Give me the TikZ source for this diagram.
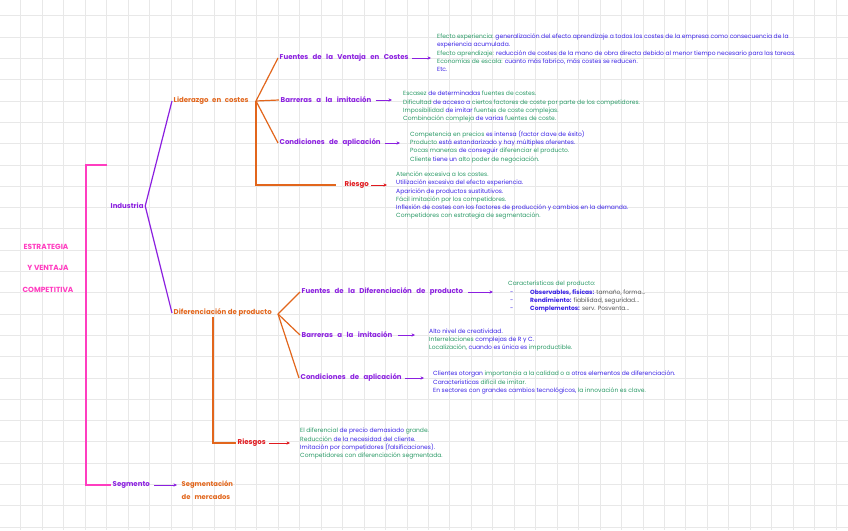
\documentclass[tikz,border=0pt]{standalone}
\usepackage{fontspec}
\setmainfont{Poppins}
\usetikzlibrary{arrows.meta}
\definecolor{gridc}{HTML}{E8E8E8}
\definecolor{pur}{HTML}{8B1FE0}
\definecolor{orn}{HTML}{E2661C}
\definecolor{rd}{HTML}{E0191E}
\definecolor{pnk}{HTML}{FF3DC0}
\definecolor{tgreen}{HTML}{2A9A66}
\definecolor{tblue}{HTML}{3A22E6}
\definecolor{tgray}{HTML}{555555}
\newcommand{\cgreen}[1]{\textcolor{tgreen}{#1}}
\newcommand{\cblue}[1]{\textcolor{tblue}{#1}}
\newcommand{\cgray}[1]{\textcolor{tgray}{#1}}
\newcommand{\bodysize}{\fontsize{6}{8.3}\selectfont}
\newcommand{\headsize}{\fontsize{7}{13}\selectfont\bfseries\spaceskip=4.4pt plus 1pt\relax}
\newcommand{\headmid}{\fontsize{7}{13}\selectfont\bfseries\spaceskip=3.6pt plus 1pt\relax}
\newcommand{\headtight}{\fontsize{7}{13}\selectfont\bfseries\spaceskip=1.6pt plus 1pt\relax}
\newcommand{\titlesize}{\fontsize{7.4}{13}\selectfont\bfseries}
\newcommand{\smallhead}{\fontsize{6.8}{13}\selectfont\bfseries\spaceskip=4pt plus 1pt\relax}
\tikzset{
  gridl/.style={draw=gridc, line width=1pt},
  head/.style={font=\headsize, inner sep=1.5pt, anchor=west},
  ttl/.style={font=\titlesize, inner sep=1.5pt, anchor=center, text=pnk},
  body/.style={font=\bodysize, inner sep=0pt, anchor=north west, align=left},
  arr/.style={-{Stealth[length=3.5pt,width=3.4pt]}, line width=0.9pt},
  link/.style={line width=1.2pt}
}
\begin{document}
\begin{tikzpicture}[x=1pt,y=-1pt]
\useasboundingbox (0,0) rectangle (848,530);
\fill[white] (0,0) rectangle (848,530);
\foreach \k in {0,...,39} \draw[gridl] ({21.45*\k-0.5},0) -- ({21.45*\k-0.5},530);
\foreach \k in {0,...,24} \draw[gridl] (0,{15.9+21.3*\k}) -- (848,{15.9+21.3*\k});

% title
\node[ttl] (t1) at (46,247) {ESTRATEGIA};
\node[ttl] (t2) at (48,268) {Y VENTAJA};
\node[ttl] (t3) at (48,290) {COMPETITIVA};

% level 1
\node[head, text=pur] (ind) at (109,206) {Industria};
\node[head, text=pur] (seg) at (111,485) {Segmento};
\coordinate (pk1) at (107,165);
\coordinate (pkc) at (86,165);
\draw[link, pnk] (pk1) -- (pkc) |- (seg.west);

\node[head, text=orn, font=\headmid] (lid) at (172,101) {Liderazgo en costes};
\node[head, text=orn, font=\headtight] (dif) at (172,313) {Diferenciación de producto};
\draw[link, pur] (ind.east) -- (lid.west);
\draw[link, pur] (ind.east) -- (dif.west);

% liderazgo branches
\coordinate (lb) at (256,101);
\node[head, text=pur] (fv) at (278,58) {Fuentes de la Ventaja en Costes};
\node[head, text=pur] (ba1) at (279,100) {Barreras a la imitación};
\node[head, text=pur] (co1) at (278,143) {Condiciones de aplicación};
\node[head, text=rd] (ri1) at (343,185) {Riesgo};
\draw[link, orn] (lb) -- (fv.west);
\draw[link, orn] (lb) -- (ba1.west);
\draw[link, orn] (lb) -- (co1.west);
\draw[link, orn, shorten >=7pt] (lb) |- (ri1.west);

\node[body] (b1) at (437,33.5) {%
\cgreen{Efecto experiencia:} \cblue{generalización del efecto aprendizaje a todos los costes de la empresa como consecuencia de la}\\
\cblue{experiencia acumulada.}\\
\cgreen{Efecto aprendizaje:} \cblue{reducción de costes de la mano de obra directa debido al menor tiempo necesario para las tareas.}\\
\cgreen{Economías de escala:} \cblue{cuanto más fabrico, más costes se reducen.}\\
\cblue{Etc.}};
\node[body] (b2) at (403,91) {%
\cgreen{Escasez} \cblue{de determinadas} \cgreen{fuentes de costes.}\\
\cgreen{Dificultad} \cblue{de acceso a} \cgreen{ciertos factores de coste por parte de los competidores.}\\
\cgreen{Imposibilidad} \cblue{de imitar} \cgreen{fuentes de coste complejas.}\\
\cgreen{Combinación compleja} \cblue{de varias} \cgreen{fuentes de coste.}};
\node[body] (b3) at (410,130.5) {%
\cgreen{Competencia en precios} \cblue{es intensa (factor clave de éxito)}\\
\cgreen{Producto} \cblue{está estandarizado y hay múltiples oferentes.}\\
\cgreen{Pocas maneras} \cblue{de conseguir} \cgreen{diferenciar el producto.}\\
\cgreen{Cliente} \cblue{tiene un} \cgreen{alto poder de negociación.}};
\node[body] (b4) at (396,171.5) {%
\cgreen{Atención excesiva a los costes.}\\
\cblue{Utilización excesiva del efecto experiencia.}\\
\cblue{Aparición de productos sustitutivos.}\\
\cgreen{Fácil imitación por los competidores.}\\
\cblue{Inflexión de costes con los factores de producción y cambios en la demanda.}\\
\cgreen{Competidores con estrategia de segmentación.}};

\draw[arr, pur, shorten <=1.5pt, shorten >=6pt] (fv.east) -- (fv.east -| b1.west);
\draw[arr, pur, shorten <=2.5pt, shorten >=11pt] (ba1.east) -- (ba1.east -| b2.west);
\draw[arr, pur, shorten <=2.5pt, shorten >=10pt] (co1.east) -- (co1.east -| b3.west);
\draw[arr, rd, shorten <=1pt, shorten >=9pt] (ri1.east) -- (ri1.east -| b4.west);

% diferenciacion branches
\coordinate (db) at (278,314);
\node[head, text=pur] (fd) at (300,292) {Fuentes de la Diferenciación de producto};
\node[head, text=pur] (bd) at (300,335) {Barreras a la imitación};
\node[head, text=pur] (cd) at (299,378) {Condiciones de aplicación};
\node[head, text=rd] (rdn) at (236,443) {Riesgos};
\coordinate (dv) at (213,317);
\draw[link, orn] (db) -- (fd.west);
\draw[link, orn] (db) -- (bd.west);
\draw[link, orn] (db) -- (cd.west);
\draw[link, orn] (dv) |- (rdn.west);

\node[body] (b5) at (508,281) {%
\cgreen{Características del producto:}\\
\hspace*{2pt}\makebox[20pt][l]{\cblue{-}}\textbf{\cblue{Observables, físicas:}} \cgray{tamaño, forma...}\\
\hspace*{2pt}\makebox[20pt][l]{\cblue{-}}\textbf{\cblue{Rendimiento:}} \cgray{fiabilidad, seguridad...}\\
\hspace*{2pt}\makebox[20pt][l]{\cblue{-}}\textbf{\cblue{Complementos:}} \cgray{serv. Posventa...}};
\node[body] (b6) at (429,328.5) {%
\cblue{Alto nivel de creatividad.}\\
\cgreen{Interrelaciones} \cblue{complejas de R y C.}\\
\cgreen{Localización,} \cblue{cuando es única es} \cgreen{improductible.}};
\node[body] (b7) at (433,371) {%
\cblue{Clientes otorgan} \cgreen{importancia a la calidad o a} \cblue{otros elementos de diferenciación.}\\
\cblue{Características} \cgreen{difícil de imitar.}\\
\cblue{En sectores con grandes cambios tecnológicos,} \cgreen{la innovación es clave.}};
\node[body] (b8) at (300,428) {%
\cgreen{El diferencial} \cblue{de precio demasiado} \cgreen{grande.}\\
\cgreen{Reducción} \cblue{de la necesidad del cliente.}\\
\cblue{Imitación por competidores (falsificaciones).}\\
\cgreen{Competidores con diferenciación segmentada.}};

\draw[arr, pur, shorten <=3.5pt, shorten >=15pt] (fd.east) -- (fd.east -| b5.west);
\draw[arr, pur, shorten <=3.5pt, shorten >=14pt] (bd.east) -- (bd.east -| b6.west);
\draw[arr, pur, shorten <=1.5pt, shorten >=9pt] (cd.east) -- (cd.east -| b7.west);
\draw[arr, rd, shorten <=1.5pt, shorten >=10pt] (rdn.east) -- (rdn.east -| b8.west);

% segmento
\node[head, text=orn, font=\smallhead, anchor=north west, align=left] (sm) at (180,479) {Segmentación\\de mercados};
\draw[arr, pur, shorten <=2.5pt, shorten >=3pt] (seg.east) -- (seg.east -| sm.west);
\end{tikzpicture}
\end{document}
